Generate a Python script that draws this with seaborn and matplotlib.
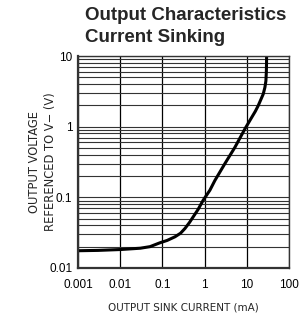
import matplotlib
matplotlib.use("Agg")
import matplotlib.pyplot as plt
import pandas as pd
import seaborn as sns
from matplotlib.ticker import LogLocator, NullFormatter, FixedLocator

# sink current (mA) vs output voltage referenced to V- (V)
current_ma = [0.001, 0.003, 0.01, 0.03, 0.051, 0.088, 0.13, 0.2, 0.27, 0.344, 0.44,
              0.54, 0.7, 0.93, 1.34, 1.76, 3.04, 5.25, 9.06, 13.1, 16.0, 18.7, 21.5,
              24.6, 27.0, 28.5, 29.2, 29.5, 29.6]
voltage_v = [0.0175, 0.0177, 0.0182, 0.019, 0.020, 0.0227, 0.0245, 0.0276, 0.031, 0.0362,
             0.044, 0.053, 0.067, 0.091, 0.126, 0.173, 0.30, 0.51, 0.93, 1.35, 1.65,
             1.98, 2.4, 2.89, 3.6, 4.45, 6.0, 8.0, 10.0]

x_ticks = [0.001, 0.01, 0.1, 1, 10, 100]
x_ticklabels = ["0.001", "0.01", "0.1", "1", "10", "100"]
y_ticks = [0.01, 0.1, 1, 10]
y_ticklabels = ["0.01", "0.1", "1", "10"]

df = pd.DataFrame({"current": current_ma, "voltage": voltage_v})

sns.set_theme(style="white")
plt.rcParams["font.family"] = ["Liberation Sans", "DejaVu Sans"]

fig = plt.figure(figsize=(3.0, 3.22), dpi=100)
ax = fig.add_axes([0.26, 0.168, 0.703, 0.658])

sns.lineplot(data=df, x="current", y="voltage", color="black", linewidth=2.2, ax=ax)
ax.set_xscale("log")
ax.set_yscale("log")
ax.set_xlim(0.001, 100)
ax.set_ylim(0.01, 10)

ax.xaxis.set_major_locator(FixedLocator(x_ticks))
ax.set_xticklabels(x_ticklabels)
ax.xaxis.set_minor_locator(FixedLocator([]))
ax.yaxis.set_major_locator(FixedLocator(y_ticks))
ax.set_yticklabels(y_ticklabels)
ax.yaxis.set_minor_locator(LogLocator(base=10, subs=range(2, 10)))
ax.yaxis.set_minor_formatter(NullFormatter())

ax.grid(True, which="major", axis="x", color="black", linewidth=0.9)
ax.grid(True, which="both", axis="y", color="#333333", linewidth=0.8)
ax.tick_params(axis="x", which="both", length=0, labelsize=8.5, pad=8, colors="black")
ax.tick_params(axis="y", which="both", length=0, labelsize=8.5, pad=4, colors="black")

for side in ["left", "bottom"]:
    ax.spines[side].set_linewidth(1.6)
    ax.spines[side].set_color("#333333")
for side in ["right", "top"]:
    ax.spines[side].set_linewidth(1.0)
    ax.spines[side].set_color("#333333")

ax.set_xlabel("OUTPUT SINK CURRENT (mA)", fontsize=7.5, family=["DejaVu Sans"])
ax.xaxis.set_label_coords(0.5, -0.165)
ax.set_ylabel("OUTPUT VOLTAGE\nREFERENCED TO V\u2212 (V)", fontsize=8.3,
              family=["DejaVu Sans"], linespacing=1.25)
ax.yaxis.set_label_coords(-0.10, 0.5)

fig.text(0.283, 0.953, "Output Characteristics", fontsize=13.5, fontweight="bold",
         ha="left", va="center")
fig.text(0.283, 0.885, "Current Sinking", fontsize=13.5, fontweight="bold",
         ha="left", va="center")

fig.savefig("out.png", dpi=100)
